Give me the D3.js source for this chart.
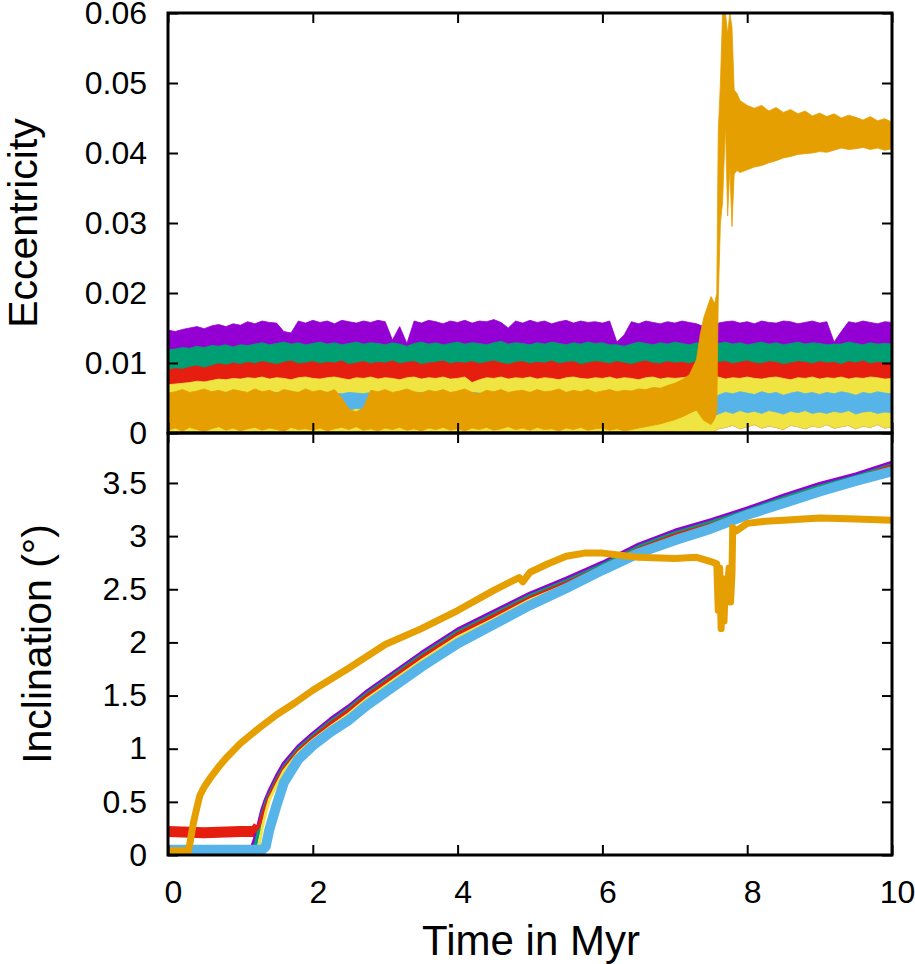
<!DOCTYPE html>
<html lang="en">
<head>
<meta charset="utf-8">
<title>Eccentricity and inclination</title>
<script src="https://cdn.jsdelivr.net/npm/d3@7"></script>
<style>
  body { margin: 0; background: #fff; }
  svg text { font-family: "Liberation Sans", Arial, Helvetica, sans-serif; fill: #000; }
  .tick text { font-size: 32px; }
  .tick line { stroke: #000; stroke-width: 2; }
  .title { font-size: 41px; }
</style>
</head>
<body>
<svg id="chart" width="915" height="964"></svg>
<script>
// ---- data: top panel, eccentricity envelopes (units of 1e-3) ----
var tEcc = [0,0.1,0.2,0.3,0.4,0.5,0.6,0.7,0.8,0.9,
  1,1.1,1.2,1.3,1.4,1.5,1.6,1.7,1.8,1.9,
  2,2.1,2.2,2.3,2.4,2.5,2.6,2.7,2.8,2.9,
  3,3.1,3.2,3.3,3.4,3.5,3.6,3.7,3.8,3.9,
  4,4.1,4.2,4.3,4.4,4.5,4.6,4.7,4.8,4.9,
  5,5.1,5.2,5.3,5.4,5.5,5.6,5.7,5.8,5.9,
  6,6.1,6.2,6.3,6.4,6.5,6.6,6.7,6.8,6.9,
  7,7.1,7.2,7.3,7.4,7.5,7.6,7.7,7.8,7.9,
  8,8.1,8.2,8.3,8.4,8.5,8.6,8.7,8.8,8.9,
  9,9.1,9.2,9.3,9.4,9.5,9.6,9.7,9.8,9.9,
  10];
var purpleHi = [14.7,14.5,14.8,15.0,15.2,14.9,15.3,15.5,15.2,15.6,
  15.4,15.9,15.6,16.0,15.8,15.7,14.5,14.3,16.0,15.7,
  16.1,15.8,16.0,15.6,16.1,15.9,15.7,16.0,15.8,16.1,
  15.9,13.3,15.2,12.8,16.0,15.7,16.1,15.9,15.6,16.0,
  15.8,16.1,15.7,16.0,15.9,16.2,15.8,15.0,16.0,15.7,
  16.1,15.8,16.0,15.6,15.9,16.1,15.7,16.0,15.8,15.9,
  15.7,16.0,13.0,14.0,15.9,15.6,16.0,15.8,15.6,15.9,
  15.7,16.0,15.8,15.6,15.2,15.9,15.7,15.9,16.0,15.7,
  15.9,15.6,16.0,15.8,15.7,16.0,15.9,15.6,15.8,16.0,
  15.7,15.9,13.0,14.5,15.9,15.7,16.0,15.8,15.6,15.9,
  15.8];
var greenHi = [11.9,12.0,12.2,12.1,12.4,12.2,12.5,12.4,12.6,12.3,
  12.6,12.5,12.7,12.9,12.6,12.8,13.0,12.7,12.9,12.6,
  12.8,13.0,12.7,12.9,12.6,12.8,13.0,12.7,12.9,12.8,
  12.6,12.9,12.7,12.4,12.8,13.0,12.7,12.9,12.6,12.8,
  13.0,12.7,12.9,12.8,12.6,12.9,13.1,12.7,12.9,12.8,
  12.6,12.9,12.7,13.0,12.8,12.6,12.9,12.7,13.0,12.8,
  12.9,12.6,12.6,12.4,12.7,13.0,12.8,12.6,12.9,12.7,
  13.0,12.8,12.6,12.9,12.7,12.5,12.8,13.0,12.7,12.9,
  12.6,12.8,13.0,12.7,12.9,12.6,12.8,13.0,12.7,12.9,
  12.8,12.6,12.7,12.7,13.0,12.8,12.6,12.9,12.7,12.8,
  12.7];
var redHi = [9.0,9.2,9.1,9.4,9.6,9.3,9.6,9.9,9.7,10.0,
  9.8,10.1,9.9,10.2,10.0,9.8,10.1,10.3,9.9,10.0,
  10.2,9.9,10.1,10.0,10.3,9.8,10.0,10.2,9.9,10.1,
  10.0,10.3,9.9,10.1,10.2,9.8,10.0,10.1,10.3,9.9,
  10.1,10.0,10.2,9.9,10.1,10.3,10.0,9.8,10.1,10.2,
  9.9,10.1,10.0,10.3,9.9,10.1,10.2,9.8,10.0,10.2,
  10.1,9.9,10.2,10.0,9.8,10.1,10.3,10.0,9.9,10.2,
  10.0,10.1,9.9,10.2,10.0,9.8,10.1,10.2,9.9,10.1,
  10.3,10.0,9.9,10.2,10.1,9.8,10.0,10.2,10.1,9.9,
  10.2,10.0,10.1,9.8,10.2,10.0,10.3,9.9,10.1,10.0,
  10.1];
var yellowHi = [6.9,7.0,7.1,7.2,7.4,7.3,7.5,7.7,7.6,7.8,
  7.7,7.9,7.8,8.0,7.7,7.9,7.8,7.6,7.9,8.0,
  7.8,7.7,7.9,8.0,7.8,7.6,7.9,7.8,8.0,7.7,
  7.9,7.8,7.6,7.9,8.0,7.7,7.9,7.8,8.0,7.7,
  7.8,8.0,7.2,7.6,7.9,7.8,8.0,7.7,7.9,7.8,
  8.0,7.7,7.9,7.8,7.6,7.9,8.0,7.8,7.7,7.9,
  7.8,8.0,7.7,7.9,7.8,7.6,7.9,8.0,7.7,7.9,
  7.8,7.9,8.0,7.7,7.9,7.8,8.0,7.7,7.9,7.8,
  8.0,7.8,7.7,7.9,8.0,7.8,7.6,7.9,7.8,8.0,
  7.7,7.9,7.8,8.0,7.7,7.9,7.8,8.0,7.9,7.7,
  7.8];
var yellowLo = [0.2,0.0,0.3,0.1,0.2,0.0,0.3,0.2,0.1,0.3,
  0.2,0.0,0.3,0.1,0.2,0.0,0.3,0.2,0.1,0.3,
  0.2,0.0,0.3,0.1,0.2,0.0,0.3,0.2,0.1,0.3,
  0.2,0.0,0.3,0.1,0.2,0.0,0.3,0.2,0.1,0.3,
  0.2,0.0,0.3,0.1,0.2,0.0,0.3,0.2,0.1,0.3,
  0.2,0.0,0.3,0.1,0.2,0.0,0.3,0.2,0.1,0.3,
  0.2,0.0,0.3,0.1,0.2,0.0,0.3,0.2,0.1,0.3,
  0.2,0.0,0.3,0.1,0.2,0.0,0.6,0.8,1.1,0.6,
  0.9,1.2,0.7,1.0,0.8,0.5,1.1,0.9,0.6,1.0,
  0.8,1.2,0.7,0.9,1.1,0.6,1.0,0.8,1.2,0.7,
  0.9];
var skyHi = [5.7,5.6,5.8,5.7,5.6,5.8,5.7,5.6,5.8,5.7,
  5.7,5.6,5.8,5.7,5.6,5.8,5.7,5.6,5.8,5.7,
  5.7,5.6,5.8,5.7,5.6,5.8,5.7,5.6,5.8,5.7,
  5.7,5.6,5.8,5.7,5.6,5.8,5.7,5.6,5.8,5.7,
  5.7,5.6,5.8,5.7,5.6,5.8,5.7,5.6,5.8,5.7,
  5.7,5.6,5.8,5.7,5.6,5.8,5.7,5.6,5.8,5.7,
  5.7,5.6,5.8,5.7,5.6,5.8,5.7,5.6,5.8,5.7,
  5.6,5.8,5.7,5.6,5.0,4.6,5.4,5.8,5.6,5.9,
  5.7,5.5,5.9,5.6,5.8,5.4,5.7,5.9,5.6,5.8,
  5.5,5.8,5.6,5.9,5.7,5.4,5.8,5.6,5.9,5.7,
  5.6];
var skyLo = [3.4,3.3,3.5,3.2,3.4,3.3,3.5,3.4,3.2,3.3,
  3.4,3.3,3.5,3.2,3.4,3.3,3.5,3.4,3.2,3.3,
  3.4,3.3,3.5,3.2,3.4,3.3,3.5,3.4,3.2,3.3,
  3.4,3.3,3.5,3.2,3.4,3.3,3.5,3.4,3.2,3.3,
  3.4,3.3,3.5,3.2,3.4,3.3,3.5,3.4,3.2,3.3,
  3.4,3.3,3.5,3.2,3.4,3.3,3.5,3.4,3.2,3.3,
  3.4,3.3,3.5,3.2,3.4,3.3,3.5,3.4,3.2,3.3,
  3.4,3.3,3.5,3.2,2.6,2.2,2.7,3.1,2.8,3.2,
  2.9,3.1,2.8,3.2,3.0,2.7,3.1,2.9,3.2,2.8,
  3.0,2.8,3.1,2.9,3.2,2.7,3.0,3.1,2.8,3.0,
  2.9];
var tOrange = [0,0.1,0.2,0.3,0.4,0.5,0.6,0.7,0.8,0.9,
  1,1.1,1.2,1.3,1.4,1.5,1.6,1.7,1.8,1.9,
  2,2.1,2.2,2.3,2.4,2.5,2.6,2.7,2.8,2.9,
  3,3.1,3.2,3.3,3.4,3.5,3.6,3.7,3.8,3.9,
  4,4.1,4.2,4.3,4.4,4.5,4.6,4.7,4.8,4.9,
  5,5.1,5.2,5.3,5.4,5.5,5.6,5.7,5.8,5.9,
  6,6.1,6.2,6.3,6.4,6.5,6.6,6.7,6.8,6.9,
  7,7.1,7.2,
  7.3,7.35,7.4,7.45,7.5,7.55,7.58,7.6,7.63,7.66,7.7,7.73,7.76,7.79,7.82,7.86,7.9,
  8,8.1,8.2,8.3,8.4,8.5,8.6,8.7,8.8,8.9,
  9,9.1,9.2,9.3,9.4,9.5,9.6,9.7,9.8,9.9,10];
var orangeHi = [5.7,5.9,6.2,5.8,6.0,6.3,5.9,6.1,5.8,6.2,
  6.0,5.8,6.3,5.9,6.1,5.7,6.2,6.0,5.8,6.3,
  5.9,6.1,5.8,6.2,5.0,3.4,3.0,3.6,6.1,5.9,
  6.2,5.8,6.0,6.3,5.9,5.7,6.1,5.9,6.2,5.8,
  6.0,6.3,5.8,5.6,6.1,5.9,6.2,5.8,6.0,6.1,
  5.8,6.2,5.9,6.0,6.3,5.8,6.1,5.9,6.2,5.8,
  6.0,6.2,5.9,6.1,6.0,6.3,6.2,6.5,6.4,6.8,
  7.1,7.6,8.3,
  10.5,14.0,16.5,18.0,19.5,18.5,20.0,43,50,60,60,57,60,58,49,48.5,47.5,
  46.8,46.4,46.8,46.0,46.5,45.8,46.2,45.6,46.0,45.3,
  45.7,45.2,45.6,45.0,45.4,45.1,44.7,45.2,44.6,44.9,44.4];
var orangeLo = [0.4,0.7,0.3,0.8,0.5,0.2,0.6,0.9,0.4,0.7,
  0.3,0.6,0.8,0.4,0.7,0.5,0.2,0.8,0.5,0.6,
  0.4,0.7,0.3,0.6,0.8,0.5,0.9,0.4,0.6,0.3,
  0.7,0.5,0.8,0.4,0.6,0.3,0.7,0.5,0.8,0.4,
  0.6,0.3,0.7,0.5,0.8,0.4,0.6,0.9,0.5,0.7,
  0.4,0.8,0.5,0.6,0.3,0.7,0.5,0.8,0.4,0.6,
  0.7,0.4,0.6,0.3,0.5,0.7,0.9,1.1,1.3,1.6,
  1.9,2.3,2.8,
  3.3,2.5,1.8,1.5,1.2,2.0,3.0,19,30,33,44,31,38,29.5,37,37.5,37.2,
  37.6,38.0,38.2,38.6,38.9,39.3,39.5,39.8,39.9,40.0,
  40.2,40.1,40.4,40.7,40.5,40.6,40.8,40.5,40.7,40.4,40.6];

// ---- data: bottom panel, inclination in degrees ----
var tInc = [0,0.5,1,1.15,1.2,1.25,1.3,1.35,1.4,1.5,1.6,1.8,2,2.25,2.5,2.75,3,3.5,4,4.5,5,5.5,6,6.5,7,7.5,8,8.5,9,9.5,10];
var purpleInc = [0.05,0.05,0.05,0.05,0.15,0.28,0.42,0.52,0.60,0.74,0.86,1.02,1.14,1.28,1.40,1.54,1.66,1.90,2.12,2.29,2.46,2.60,2.75,2.92,3.05,3.15,3.26,3.38,3.49,3.58,3.69];
var greenInc = [0.05,0.05,0.05,0.05,0.07,0.22,0.38,0.49,0.57,0.71,0.83,1.00,1.12,1.26,1.38,1.52,1.64,1.88,2.10,2.27,2.44,2.58,2.73,2.90,3.03,3.13,3.24,3.36,3.47,3.56,3.67];
var redInc = [0.22,0.21,0.22,0.22,0.22,0.27,0.36,0.46,0.55,0.69,0.81,0.98,1.10,1.24,1.36,1.50,1.62,1.86,2.08,2.25,2.42,2.56,2.71,2.88,3.01,3.11,3.22,3.34,3.45,3.54,3.66];
var yellowInc = [0.05,0.05,0.05,0.05,0.05,0.06,0.25,0.40,0.52,0.66,0.79,0.96,1.08,1.21,1.33,1.47,1.59,1.83,2.05,2.22,2.40,2.54,2.69,2.86,2.99,3.09,3.21,3.32,3.44,3.53,3.64];
var skyInc = [0.05,0.05,0.05,0.05,0.05,0.05,0.05,0.08,0.24,0.47,0.68,0.90,1.03,1.16,1.27,1.41,1.53,1.77,1.99,2.17,2.35,2.51,2.68,2.84,2.96,3.07,3.20,3.31,3.42,3.52,3.61];
var tOrangeInc = [0,0.28,0.3,0.35,0.4,0.44,0.5,0.6,0.7,0.8,1,1.25,1.5,1.75,2,2.5,3,3.5,4,4.5,4.85,4.9,5,5.25,5.5,5.75,6,6.25,6.5,7,7.3,7.5,7.58,7.6,7.62,7.64,7.66,7.68,7.7,7.72,7.75,7.77,7.79,7.8,7.85,8,8.25,8.5,9,9.5,10];
var orangeInc = [0.04,0.04,0.10,0.30,0.45,0.56,0.64,0.74,0.83,0.91,1.05,1.19,1.32,1.43,1.55,1.76,1.98,2.13,2.30,2.49,2.61,2.57,2.66,2.74,2.81,2.84,2.84,2.82,2.80,2.79,2.80,2.76,2.74,2.30,2.70,2.13,2.55,2.20,2.60,2.42,2.70,2.38,2.65,3.08,3.05,3.12,3.14,3.15,3.17,3.16,3.15];

// ---- ticks ----
var timeTicks = [0,2,4,6,8,10];
var timeTickLabels = ["0","2","4","6","8","10"];
var eccTicks = [0,0.01,0.02,0.03,0.04,0.05,0.06];
var eccTickLabels = ["0","0.01","0.02","0.03","0.04","0.05","0.06"];
var incTicks = [0,0.5,1,1.5,2,2.5,3,3.5];
var incTickLabels = ["0","0.5","1","1.5","2","2.5","3","3.5"];

var col = {purple:"#9400d3", green:"#009e73", sky:"#56b4e9", orange:"#e69f00", yellow:"#f0e442", red:"#e51e10"};

// plot frame edges (px)
var pL = 168, pR = 892, pT = 13, pM = 433, pB = 855;
var x = d3.scaleLinear().domain([0, 10]).range([pL, pR]);
var yE = d3.scaleLinear().domain([0, 0.06]).range([pM, pT]);
var yI = d3.scaleLinear().domain([0, 3.97]).range([pB, pM]);

var svg = d3.select("#chart");
var defs = svg.append("defs");
defs.append("clipPath").attr("id", "clipE").append("rect")
  .attr("x", pL).attr("y", pT).attr("width", pR - pL).attr("height", pM - pT);
defs.append("clipPath").attr("id", "clipI").append("rect")
  .attr("x", pL).attr("y", pM).attr("width", pR - pL).attr("height", pB - pM);

// top panel bands
function band(t, lo, hi) {
  return d3.area()
    .x(function(d, i) { return x(t[i]); })
    .y0(function(d, i) { return yE(lo[i] / 1000); })
    .y1(function(d, i) { return yE(hi[i] / 1000); });
}
var gE = svg.append("g").attr("clip-path", "url(#clipE)");
[
  [tEcc, redHi, purpleHi, col.purple],
  [tEcc, yellowHi, greenHi, col.green],
  [tEcc, yellowLo, redHi, col.red],
  [tEcc, yellowLo, yellowHi, col.yellow],
  [tEcc, skyLo, skyHi, col.sky],
  [tOrange, orangeLo, orangeHi, col.orange]
].forEach(function(s) {
  gE.append("path").attr("d", band(s[0], s[1], s[2])(s[0]))
    .attr("fill", s[3]).attr("stroke", s[3]).attr("stroke-width", 0.8)
    .attr("stroke-linejoin", "round");
});

// bottom panel lines
function line(t) {
  return d3.line().x(function(d, i) { return x(t[i]); }).y(function(d) { return yI(d); });
}
var gI = svg.append("g").attr("clip-path", "url(#clipI)");
var redFlat = redInc.filter(function(d, i) { return tInc[i] <= 1.25; });
gI.append("path").attr("d", line(tInc)(redFlat)).attr("fill", "none")
  .attr("stroke", col.red).attr("stroke-width", 11);
[
  [tInc, purpleInc, col.purple, 4],
  [tInc, greenInc, col.green, 3.5],
  [tInc, redInc, col.red, 3.5],
  [tInc, yellowInc, col.yellow, 3],
  [tInc, skyInc, col.sky, 10],
  [tOrangeInc, orangeInc, col.orange, 7]
].forEach(function(s) {
  gI.append("path").attr("d", line(s[0])(s[1])).attr("fill", "none")
    .attr("stroke", s[2]).attr("stroke-width", s[3])
    .attr("stroke-linejoin", "round");
});

// axes (inward ticks on all sides)
function noDomain(g) { g.select(".domain").remove(); }
svg.append("g").attr("transform", "translate(" + pL + ",0)")
  .call(d3.axisLeft(yE).tickValues(eccTicks).tickSize(-10).tickPadding(21)
    .tickFormat(function(d, i) { return eccTickLabels[i]; })).call(noDomain);
svg.append("g").attr("transform", "translate(" + pR + ",0)")
  .call(d3.axisRight(yE).tickValues(eccTicks).tickSize(-10).tickFormat("")).call(noDomain);
svg.append("g").attr("transform", "translate(0," + pT + ")")
  .call(d3.axisTop(x).tickValues(timeTicks).tickSize(-10).tickFormat("")).call(noDomain);
svg.append("g").attr("transform", "translate(0," + pM + ")")
  .call(d3.axisBottom(x).tickValues(timeTicks).tickSize(-10).tickFormat("")).call(noDomain);
svg.append("g").attr("transform", "translate(0," + pM + ")")
  .call(d3.axisTop(x).tickValues(timeTicks).tickSize(-10).tickFormat("")).call(noDomain);
svg.append("g").attr("transform", "translate(" + pL + ",0)")
  .call(d3.axisLeft(yI).tickValues(incTicks).tickSize(-10).tickPadding(21)
    .tickFormat(function(d, i) { return incTickLabels[i]; })).call(noDomain);
svg.append("g").attr("transform", "translate(" + pR + ",0)")
  .call(d3.axisRight(yI).tickValues(incTicks).tickSize(-10).tickFormat("")).call(noDomain);
svg.append("g").attr("transform", "translate(0," + pB + ")")
  .call(d3.axisBottom(x).tickValues(timeTicks).tickSize(-10).tickPadding(25)
    .tickFormat(function(d, i) { return timeTickLabels[i]; })).call(noDomain)
  .selectAll("text").attr("dx", 5);

// frames
svg.append("rect").attr("x", pL).attr("y", pT).attr("width", pR - pL).attr("height", pM - pT)
  .attr("fill", "none").attr("stroke", "#000").attr("stroke-width", 3);
svg.append("rect").attr("x", pL).attr("y", pM).attr("width", pR - pL).attr("height", pB - pM)
  .attr("fill", "none").attr("stroke", "#000").attr("stroke-width", 3);

// titles
svg.append("text").attr("class", "title").attr("text-anchor", "middle")
  .attr("transform", "translate(37," + (pT + pM) / 2 + ") rotate(-90)").text("Eccentricity");
svg.append("text").attr("class", "title").attr("text-anchor", "middle")
  .attr("transform", "translate(51," + (pM + pB) / 2 + ") rotate(-90)").text("Inclination (°)");
svg.append("text").attr("class", "title").attr("text-anchor", "middle")
  .attr("x", (pL + pR) / 2 + 1).attr("y", 955).style("font-size", "42px").text("Time in Myr");
</script>
</body>
</html>
